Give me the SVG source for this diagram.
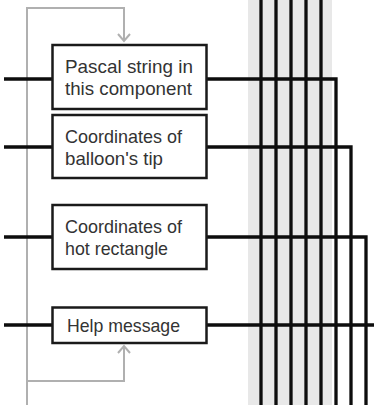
<svg xmlns="http://www.w3.org/2000/svg" width="374" height="405" viewBox="0 0 374 405">
  <defs>
    <style>
      .box { fill: #ffffff; stroke: #1a1a1a; stroke-width: 2.5; }
      .label { font-family: "Liberation Sans", Arial, sans-serif; font-size: 19px; fill: #333333; }
      .wire { fill: none; stroke: #0d0d0d; stroke-width: 3.3; stroke-linejoin: miter; stroke-linecap: butt; }
      .loop { fill: none; stroke: #b0b0b0; stroke-width: 2; }
    </style>
    <marker id="open-arrow" viewBox="0 0 12 14" refX="10" refY="7" markerWidth="12" markerHeight="14" markerUnits="userSpaceOnUse" orient="auto-start-reverse">
      <path d="M3,1 L10,7 L3,13" fill="none" stroke="#b0b0b0" stroke-width="2"/>
    </marker>
  </defs>

  <!-- shaded bus band behind the vertical lines -->
  <rect x="248" y="0" width="84" height="405" fill="#e8e8e8"/>

  <g id="connectors">
    <!-- gray feedback loop -->
    <path class="loop" d="M27,405 V8 H124 V41" marker-end="url(#open-arrow)"/>
    <path class="loop" d="M27,381 H124 V346" marker-end="url(#open-arrow)"/>

    <!-- vertical bus lines -->
    <path class="wire" d="M261,0 V405 M276,0 V405 M291,0 V405 M321,0 V405"/>
    <path class="wire" d="M306,0 V405" stroke-width="3.8"/>

    <!-- inputs on the left -->
    <path class="wire" d="M4,79 H52 M4,147 H52 M4,237 H52 M4,325 H52"/>

    <!-- outputs joining the bus -->
    <path class="wire" d="M207,79 H336 V405"/>
    <path class="wire" d="M207,147 H351 V405"/>
    <path class="wire" d="M207,237 H366 V405"/>
    <path class="wire" d="M207,325 H374"/>
  </g>

  <g id="pascal-string">
    <rect class="box" x="52.5" y="45" width="154" height="64"/>
    <text class="label" x="65" y="72.5" textLength="128" lengthAdjust="spacingAndGlyphs">Pascal string in</text>
    <text class="label" x="65" y="95" textLength="127" lengthAdjust="spacingAndGlyphs">this component</text>
  </g>

  <g id="balloon-tip">
    <rect class="box" x="52.5" y="115" width="154" height="63"/>
    <text class="label" x="65" y="143" textLength="117" lengthAdjust="spacingAndGlyphs">Coordinates of</text>
    <text class="label" x="65" y="165" textLength="98" lengthAdjust="spacingAndGlyphs">balloon's tip</text>
  </g>

  <g id="hot-rectangle">
    <rect class="box" x="52.5" y="205" width="154" height="64"/>
    <text class="label" x="65" y="233" textLength="117" lengthAdjust="spacingAndGlyphs">Coordinates of</text>
    <text class="label" x="65" y="255" textLength="103" lengthAdjust="spacingAndGlyphs">hot rectangle</text>
  </g>

  <g id="help-message">
    <rect class="box" x="52.5" y="307.5" width="154" height="35.5"/>
    <text class="label" x="67" y="332" textLength="113" lengthAdjust="spacingAndGlyphs">Help message</text>
  </g>
</svg>
